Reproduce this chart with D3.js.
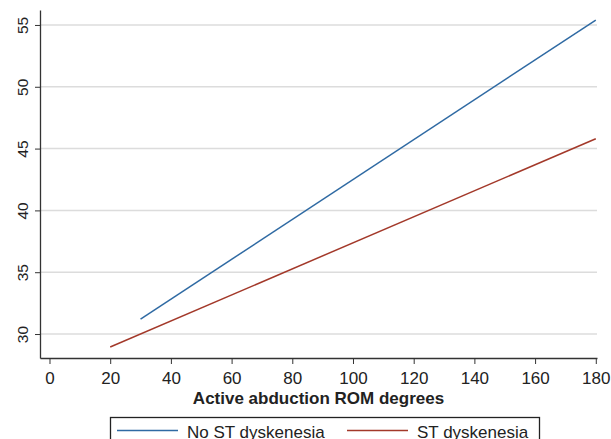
<!DOCTYPE html>
<html>
<head>
<meta charset="utf-8">
<script src="https://cdn.jsdelivr.net/npm/d3@7"></script>
<style>
  body { margin: 0; background: #fff; }
  svg { display: block; font-family: Arial, "Liberation Sans", Helvetica, sans-serif; }
</style>
</head>
<body>
<svg id="chart" width="611" height="439"></svg>
<script>
// fitted lines, endpoints
var series_names  = ['No ST dyskenesia', 'ST dyskenesia'];
var series_colors = ['#2f6aa3', '#a3392a'];
var rom_no_st     = [30, 180];
var score_no_st   = [31.2, 55.4];
var rom_st        = [20, 180];
var score_st      = [28.95, 45.8];

var x_ticks = [0, 20, 40, 60, 80, 100, 120, 140, 160, 180];
var y_ticks = [30, 35, 40, 45, 50, 55];
var x_title = 'Active abduction ROM degrees';

(function() {
    var svg = d3.select('#chart');

    // Plotbereich
    var m_left = 40, m_right = 597, m_top = 10, m_bottom = 358;

    var x = d3.scaleLinear().domain([-3.13, 180.4]).range([m_left, m_right]);
    var y = d3.scaleLinear().domain([28.06, 56.21]).range([m_bottom, m_top]);

    // Gitterlinien
    svg.append('g').selectAll('line')
        .data(y_ticks)
        .enter().append('line')
        .attr('x1', m_left).attr('x2', m_right)
        .attr('y1', function(d) { return y(d); })
        .attr('y2', function(d) { return y(d); })
        .attr('stroke', '#dcdcdc')
        .attr('stroke-width', 1.5);

    // y-Achse
    var y_axis = svg.append('g')
        .attr('transform', 'translate(' + m_left + ',0)')
        .call(d3.axisLeft(y).tickValues(y_ticks).tickSize(5).tickSizeOuter(0).tickFormat(d3.format('d')));
    y_axis.select('.domain').attr('stroke', '#333').attr('stroke-width', 1.3);
    y_axis.selectAll('.tick line').attr('stroke', '#333');
    y_axis.selectAll('.tick text')
        .attr('font-size', 15.5)
        .attr('fill', '#222')
        .attr('transform', 'rotate(-90)')
        .attr('x', 0)
        .attr('y', -12.5)
        .attr('dy', 0)
        .attr('text-anchor', 'middle');

    // x-Achse
    var x_axis = svg.append('g')
        .attr('transform', 'translate(0,' + m_bottom + ')')
        .call(d3.axisBottom(x).tickValues(x_ticks).tickSize(6).tickSizeOuter(0).tickFormat(d3.format('d')));
    x_axis.select('.domain').attr('stroke', '#333').attr('stroke-width', 1.3);
    x_axis.selectAll('.tick line').attr('stroke', '#333');
    x_axis.selectAll('.tick text')
        .attr('font-size', 17)
        .attr('fill', '#222')
        .attr('y', 14);

    svg.append('text')
        .attr('x', (m_left + m_right) / 2)
        .attr('y', 404)
        .attr('text-anchor', 'middle')
        .attr('font-size', 17)
        .attr('font-weight', 'bold')
        .attr('fill', '#222')
        .text(x_title);

    // Linien
    var line = d3.line()
        .x(function(d) { return x(d[0]); })
        .y(function(d) { return y(d[1]); });

    var series = [
        d3.zip(rom_no_st, score_no_st),
        d3.zip(rom_st, score_st)
    ];

    svg.append('g').selectAll('path')
        .data(series)
        .enter().append('path')
        .attr('d', line)
        .attr('fill', 'none')
        .attr('stroke', function(d, i) { return series_colors[i]; })
        .attr('stroke-width', 1.5);

    // Legende
    var legend = svg.append('g');
    legend.append('rect')
        .attr('x', 110.5).attr('y', 417.5)
        .attr('width', 429).attr('height', 40)
        .attr('fill', '#fff')
        .attr('stroke', '#222')
        .attr('stroke-width', 1.3);

    var leg_x = [117, 347];
    series_names.forEach(function(name, i) {
        legend.append('line')
            .attr('x1', leg_x[i]).attr('x2', leg_x[i] + 61)
            .attr('y1', 430.5).attr('y2', 430.5)
            .attr('stroke', series_colors[i])
            .attr('stroke-width', 1.5);
        legend.append('text')
            .attr('x', leg_x[i] + 70)
            .attr('y', 437.5)
            .attr('font-size', 17)
            .attr('fill', '#222')
            .text(name);
    });
})();
</script>
</body>
</html>
